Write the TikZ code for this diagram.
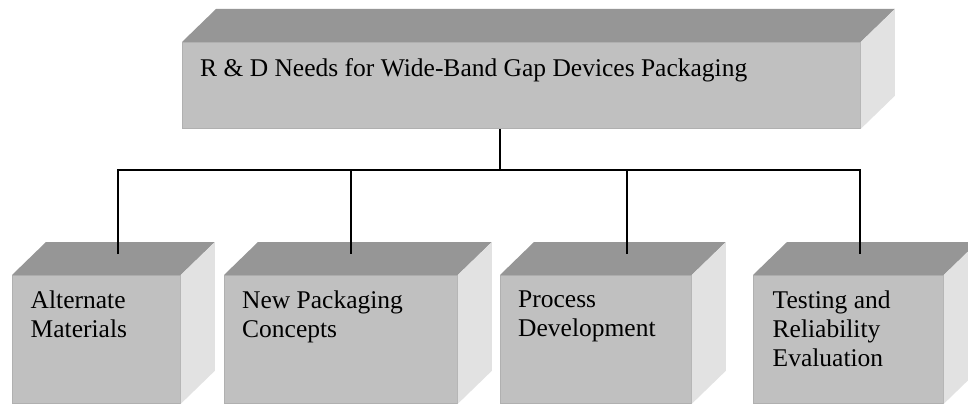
\documentclass[tikz,border=0pt]{standalone}
\usepackage{fontspec}
\setmainfont{Liberation Serif}
\usetikzlibrary{calc}
\definecolor{frontc}{RGB}{192,192,192}
\definecolor{topc}{RGB}{150,150,150}
\definecolor{sidec}{RGB}{226,226,226}
\definecolor{edgec}{RGB}{176,176,176}
\newcommand\cubefaces[1]{%
  \fill[topc] (#1.north west) -- ++(34,-33) -- ($(#1.north east)+(34,-33)$) -- (#1.north east) -- cycle;
  \fill[sidec] (#1.north east) -- ++(34,-33) -- ($(#1.south east)+(34,-33)$) -- (#1.south east) -- cycle;
}
\begin{document}
\begin{tikzpicture}[x=1pt,y=-1pt,
  frontface/.style={fill=frontc, draw=edgec, line width=0.8pt, inner sep=0pt, anchor=north west},
  lbl/.style={anchor=north west, inner sep=0pt, align=left, font=\fontsize{25.5pt}{29.3pt}\selectfont,
    execute at begin node=\vphantom{l}},
  conn/.style={draw=black, line width=1.3pt}]
\clip (0,0) rectangle (968,404);
\fill[white] (0,0) rectangle (968,404);
% top box
\node[frontface, minimum width=678pt, minimum height=86pt] (top) at (182,42) {};
\cubefaces{top}
% bottom boxes
\node[frontface, minimum width=168pt, minimum height=128pt] (b1) at (12,275) {};
\node[frontface, minimum width=233pt, minimum height=128pt] (b2) at (224,275) {};
\node[frontface, minimum width=191pt, minimum height=128pt] (b3) at (500,275) {};
\node[frontface, minimum width=190pt, minimum height=128pt] (b4) at (753,275) {};
\cubefaces{b1}
\cubefaces{b2}
\cubefaces{b3}
\cubefaces{b4}
% labels
\node[lbl] (l0) at ($(top.north west)+(18,16.5)$) {R \& D Needs for Wide-Band Gap Devices Packaging};
\node[lbl] (l1) at ($(b1.north west)+(18.5,15.5)$) {Alternate\\Materials};
\node[lbl] (l2) at ($(b2.north west)+(18,15.5)$) {New Packaging\\Concepts};
\node[lbl] (l3) at ($(b3.north west)+(18,15.5)$) {Process\\Development};
\node[lbl] (l4) at ($(b4.north west)+(19.5,15.5)$) {Testing and\\Reliability\\Evaluation};
% connectors
\coordinate (j) at (500,170);
\coordinate (t1) at (118,170);
\coordinate (t2) at (351,170);
\coordinate (t3) at (627,170);
\coordinate (t4) at (860,170);
\coordinate (e1) at (118,254);
\coordinate (e2) at (351,254);
\coordinate (e3) at (627,254);
\coordinate (e4) at (860,254);
\draw[conn] (top.south -| j) -- (j);
\draw[conn] (e1) -- (t1) -- (t4) -- (e4);
\draw[conn] (t2) -- (e2);
\draw[conn] (t3) -- (e3);
\end{tikzpicture}
\end{document}
